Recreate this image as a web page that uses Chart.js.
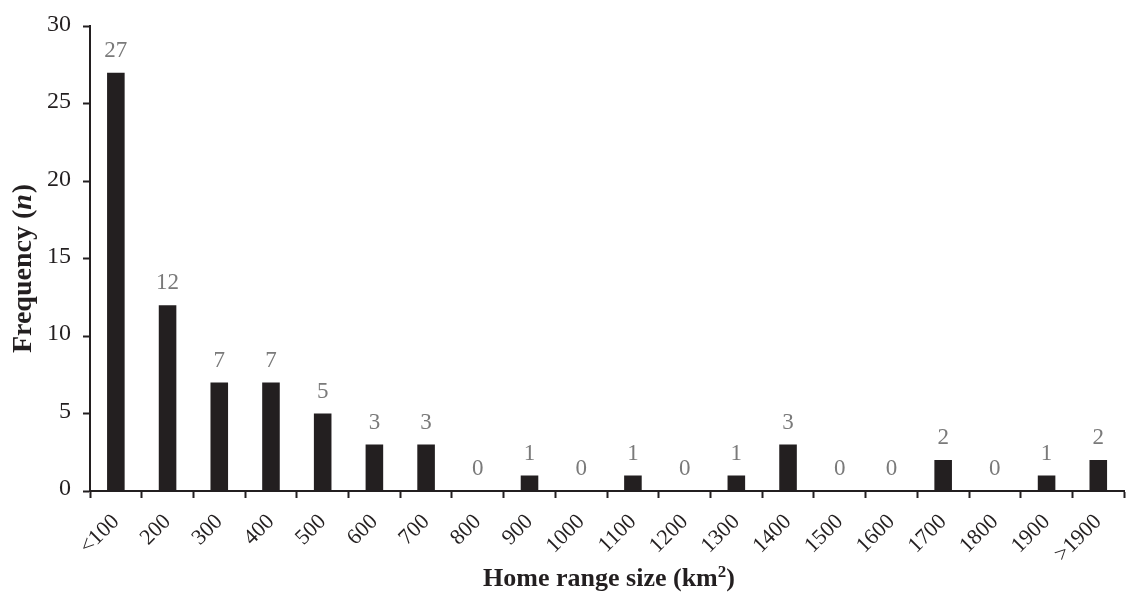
<!DOCTYPE html>
<html>
<head>
<meta charset="utf-8">
<script src="https://cdn.jsdelivr.net/npm/chart.js@4"></script>
<style>
  html, body { margin: 0; padding: 0; background: #fff; }
  #wrap { width: 1128px; height: 595px; position: relative; }
</style>
</head>
<body>
<div id="wrap"><canvas id="chart" width="1128" height="595"></canvas></div>
<script>
// Home range size classes (km²)
const categories = ['<100', '200', '300', '400', '500', '600', '700', '800', '900', '1000',
  '1100', '1200', '1300', '1400', '1500', '1600', '1700', '1800', '1900', '>1900'];
// Number of home ranges in each class
const frequency = [27, 12, 7, 7, 5, 3, 3, 0, 1, 0, 1, 0, 1, 3, 0, 0, 2, 0, 1, 2];
// Y-axis ticks
const yTicks = [0, 5, 10, 15, 20, 25, 30];

const SERIF = '"Liberation Serif", "Times New Roman", serif';
const INK = '#231f20';

// Value labels above each bar
const valueLabels = {
  id: 'valueLabels',
  afterDatasetsDraw(chart) {
    const ctx = chart.ctx;
    const meta = chart.getDatasetMeta(0);
    ctx.save();
    ctx.font = '23px ' + SERIF;
    ctx.fillStyle = '#7a7a7a';
    ctx.textAlign = 'center';
    ctx.textBaseline = 'alphabetic';
    meta.data.forEach((bar, i) => {
      ctx.fillText(String(frequency[i]), bar.x, bar.y - 16);
    });
    ctx.restore();
  }
};

// Axis titles (y title mixes upright and italic text)
const axisTitles = {
  id: 'axisTitles',
  afterDraw(chart) {
    const ctx = chart.ctx;
    ctx.save();
    ctx.fillStyle = INK;
    ctx.textBaseline = 'alphabetic';
    ctx.textAlign = 'left';

    // x title with superscript
    const xMain = 'Home range size (km';
    const sup = '2';
    const close = ')';
    ctx.font = 'bold 26px ' + SERIF;
    const wMain = ctx.measureText(xMain).width;
    const wClose = ctx.measureText(close).width;
    ctx.font = 'bold 17px ' + SERIF;
    const wSup = ctx.measureText(sup).width;
    const total = wMain + wSup + wClose;
    let x = 609 - total / 2;
    const yBase = 586;
    ctx.font = 'bold 26px ' + SERIF;
    ctx.fillText(xMain, x, yBase);
    x += wMain;
    ctx.font = 'bold 17px ' + SERIF;
    ctx.fillText(sup, x, yBase - 9);
    x += wSup;
    ctx.font = 'bold 26px ' + SERIF;
    ctx.fillText(close, x, yBase);

    // y title, rotated
    ctx.translate(31, 269);
    ctx.rotate(-Math.PI / 2);
    const p1 = 'Frequency (';
    const p2 = 'n';
    const p3 = ')';
    ctx.font = 'bold 28px ' + SERIF;
    const w1 = ctx.measureText(p1).width;
    const w3 = ctx.measureText(p3).width;
    ctx.font = 'italic bold 28px ' + SERIF;
    const w2 = ctx.measureText(p2).width;
    let yx = -(w1 + w2 + w3) / 2;
    ctx.font = 'bold 28px ' + SERIF;
    ctx.fillText(p1, yx, 0);
    yx += w1;
    ctx.font = 'italic bold 28px ' + SERIF;
    ctx.fillText(p2, yx, 0);
    yx += w2 + 1;
    ctx.font = 'bold 28px ' + SERIF;
    ctx.fillText(p3, yx, 0);
    ctx.restore();
  }
};

new Chart(document.getElementById('chart'), {
  type: 'bar',
  data: {
    labels: categories,
    datasets: [{
      data: frequency,
      backgroundColor: INK,
      borderWidth: 0,
      barPercentage: 0.34,
      categoryPercentage: 1.0
    }]
  },
  options: {
    responsive: false,
    animation: false,
    layout: { padding: { top: 23, right: 2, left: 0, bottom: 0 } },
    plugins: {
      legend: { display: false },
      tooltip: { enabled: false }
    },
    scales: {
      x: {
        offset: true,
        grid: {
          offset: true,
          drawOnChartArea: false,
          drawTicks: true,
          tickLength: 7,
          tickWidth: 2,
          tickColor: INK
        },
        border: { display: true, color: INK, width: 2 },
        ticks: {
          autoSkip: false,
          maxRotation: 45,
          minRotation: 45,
          padding: 11,
          color: INK,
          font: { family: SERIF, size: 22 }
        },
        afterFit(scale) { scale.height = 104; }
      },
      y: {
        min: 0,
        max: 30,
        afterBuildTicks(scale) { scale.ticks = yTicks.map(v => ({ value: v })); },
        grid: {
          drawOnChartArea: false,
          drawTicks: true,
          tickLength: 7,
          tickWidth: 2,
          tickColor: INK
        },
        border: { display: true, color: INK, width: 2 },
        ticks: {
          padding: 12,
          labelOffset: -2,
          color: INK,
          font: { family: SERIF, size: 24 }
        },
        afterFit(scale) { scale.width = 90; }
      }
    }
  },
  plugins: [valueLabels, axisTitles]
});
</script>
</body>
</html>
